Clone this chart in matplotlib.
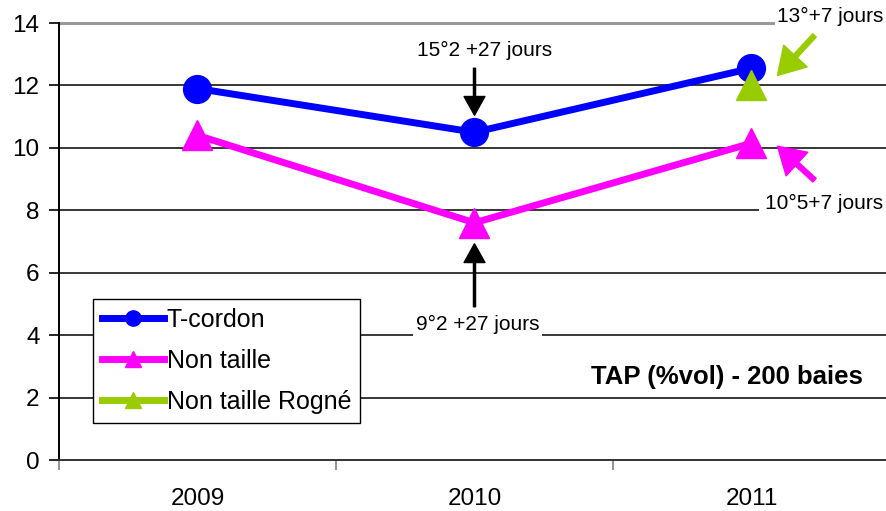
import numpy as np
import matplotlib
matplotlib.use("Agg")
import matplotlib.pyplot as plt
import matplotlib.transforms as mtransforms

plt.rcParams['font.family'] = ['Liberation Sans', 'DejaVu Sans']

years = ["2009", "2010", "2011"]
t_cordon = [11.9, 10.5, 12.55]
non_taille = [10.4, 7.6, 10.15]
non_taille_rogne = [np.nan, np.nan, 12.0]
y_ticks = [0, 2, 4, 6, 8, 10, 12, 14]

W, H = 886, 511
fig = plt.figure(figsize=(W / 100, H / 100), dpi=100)
ax = fig.add_axes([59 / W, 51 / H, 831 / W, 437 / H])

x = np.arange(len(years))
ax.plot(x, t_cordon, color='#0000FF', lw=5, marker='o', ms=20, label='T-cordon', zorder=5)
ax.plot(x, non_taille, color='#FF00FF', lw=5, marker='^', ms=21, label='Non taille', zorder=5)
ax.plot(x, non_taille_rogne, color='#99CC00', lw=5, marker='^', ms=21, label='Non taille Rogné', zorder=6)

ax.set_xlim(-0.5, len(years) - 0.5)
ax.set_ylim(0, 14)
ax.set_yticks(y_ticks)
ax.set_xticks(x)
ax.set_xticklabels(years)
ax.set_xticks(np.arange(len(years) + 1) - 0.5, minor=True)
ax.tick_params(axis='x', which='major', length=0, pad=20, labelsize=17.5)
ax.tick_params(axis='x', which='minor', length=7, width=1.2, color='#808080', direction='out')
ax.tick_params(axis='y', length=7, width=1.2, direction='out', pad=7, labelsize=17.5)

for v in y_ticks[1:-1]:
    ax.axhline(v, color='black', lw=1.1, zorder=1)
ax.axhline(y_ticks[-1], color='#999999', lw=2.2, zorder=1, clip_on=False)

for s in ['top', 'right']:
    ax.spines[s].set_visible(False)
ax.spines['left'].set_linewidth(1.4)
ax.spines['bottom'].set_linewidth(1.4)
ax.spines['bottom'].set_color('#333333')

leg = ax.legend(loc='upper left', bbox_to_anchor=(0.041, 0.368), borderaxespad=0,
                fontsize=18, markerscale=0.55, handlelength=2.5, handletextpad=0.1,
                labelspacing=0.68, borderpad=0.35, fancybox=False, framealpha=1,
                edgecolor='black')
leg.get_frame().set_linewidth(1.0)
leg.set_zorder(10)


def off(dx, dy):
    return ax.transData + mtransforms.ScaledTranslation(dx / 100, dy / 100, fig.dpi_scale_trans)


box = dict(facecolor='white', edgecolor='none', pad=2)

# black arrows 2010
black_arrow = dict(arrowstyle='simple,head_length=1.35,head_width=1.5,tail_width=0.15',
                   color='black', shrinkA=0, shrinkB=0, mutation_scale=10)
ax.annotate('', xy=(1, t_cordon[1]), xycoords=off(0, 17),
            xytext=(1, t_cordon[1]), textcoords=off(0, 64), arrowprops=black_arrow, zorder=8)
ax.annotate('15°2 +27 jours', xy=(1, t_cordon[1]), xycoords=off(10, 82),
            ha='center', va='center', fontsize=15, zorder=9, bbox=box)

ax.annotate('', xy=(1, non_taille[1]), xycoords=off(0, -21),
            xytext=(1, non_taille[1]), textcoords=off(0, -84), arrowprops=black_arrow, zorder=8)
ax.annotate('9°2 +27 jours', xy=(1, non_taille[1]), xycoords=off(3, -102),
            ha='center', va='center', fontsize=15, zorder=9, bbox=box)

# coloured arrows 2011
green_arrow = dict(arrowstyle='simple,head_length=1.9,head_width=2.3,tail_width=0.35',
                   color='#99CC00', shrinkA=0, shrinkB=0, mutation_scale=10)
ax.annotate('', xy=(2, non_taille_rogne[2]), xycoords=off(26, 10),
            xytext=(2, non_taille_rogne[2]), textcoords=off(63, 50), arrowprops=green_arrow, zorder=8)
ax.annotate('13°+7 jours', xy=(2, non_taille_rogne[2]), xycoords=off(79, 69),
            ha='center', va='center', fontsize=15, zorder=9, bbox=box, annotation_clip=False)

pink_arrow = dict(arrowstyle='simple,head_length=1.9,head_width=2.3,tail_width=0.35',
                  color='#FF00FF', shrinkA=0, shrinkB=0, mutation_scale=10)
ax.annotate('', xy=(2, non_taille[2]), xycoords=off(26, -3),
            xytext=(2, non_taille[2]), textcoords=off(63, -37), arrowprops=pink_arrow, zorder=8)
ax.annotate('10°5+7 jours', xy=(2, non_taille[2]), xycoords=off(73, -60),
            ha='center', va='center', fontsize=15, zorder=9, bbox=dict(facecolor='white', edgecolor='none', pad=5))

ax.text(0.804, 0.191, 'TAP (%vol) - 200 baies', transform=ax.transAxes,
        ha='center', va='center', fontsize=18.5, fontweight='bold', zorder=9)

fig.savefig('out.png', dpi=100)
